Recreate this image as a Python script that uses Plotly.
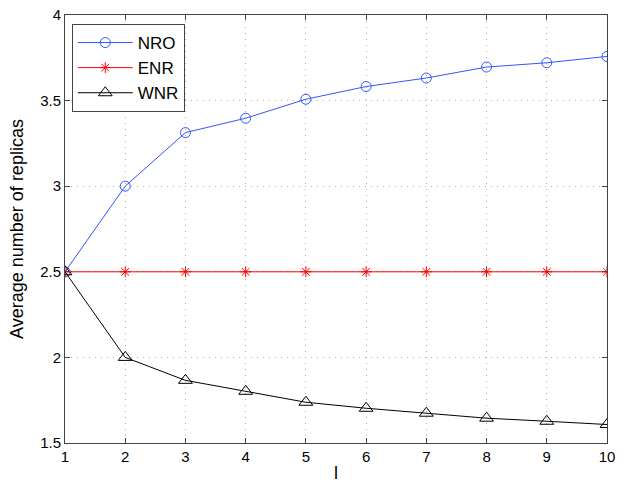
import plotly.graph_objects as go

# Data
l_values = [1, 2, 3, 4, 5, 6, 7, 8, 9, 10]
nro = [2.5, 3.0, 3.313, 3.397, 3.508, 3.582, 3.632, 3.696, 3.721, 3.758]
enr = [2.5, 2.5, 2.5, 2.5, 2.5, 2.5, 2.5, 2.5, 2.5, 2.5]
wnr = [2.5, 2.0, 1.866, 1.802, 1.738, 1.703, 1.674, 1.645, 1.627, 1.608]

x_ticks = [1, 2, 3, 4, 5, 6, 7, 8, 9, 10]
y_ticks = [1.5, 2, 2.5, 3, 3.5, 4]
y_tick_labels = ["1.5", "2", "2.5", "3", "3.5", "4"]

font_family = "Liberation Sans, Arial, sans-serif"

fig = go.Figure()
fig.add_trace(go.Scatter(
    x=l_values, y=nro, name="NRO", mode="lines+markers",
    line=dict(color="#3355ff", width=1),
    marker=dict(symbol="circle-open", size=10, color="#3355ff", line=dict(width=1)),
))
fig.add_trace(go.Scatter(
    x=l_values, y=enr, name="ENR", mode="lines+markers",
    line=dict(color="#ff0000", width=1),
    marker=dict(symbol="asterisk-open", size=9, color="#ff0000", line=dict(width=1, color="#ff0000")),
))
fig.add_trace(go.Scatter(
    x=l_values, y=wnr, name="WNR", mode="lines+markers",
    line=dict(color="#000000", width=1),
    marker=dict(symbol="triangle-up-open", size=12, color="#000000", line=dict(width=1)),
))

axis_common = dict(
    showline=True, linecolor="#444444", linewidth=1, mirror="ticks",
    ticks="inside", ticklen=5, tickcolor="#444444",
    showgrid=True, gridcolor="#b0b0b0", griddash="1px,5px", gridwidth=1,
    zeroline=False, automargin=False,
    tickfont=dict(family=font_family, size=15, color="#000000"),
)

fig.update_layout(
    width=631, height=483,
    margin=dict(l=65, r=24, t=14.5, b=39.5),
    paper_bgcolor="white", plot_bgcolor="white",
    font=dict(family=font_family, size=15, color="#000000"),
    xaxis=dict(range=[1, 10], tickvals=x_ticks, title=dict(text="l", standoff=16), **axis_common),
    yaxis=dict(range=[1.5, 4], tickvals=y_ticks, ticktext=y_tick_labels,
               title=dict(text="Average number of replicas", standoff=11), **axis_common),
    legend=dict(
        x=0.0125, y=0.979, xanchor="left", yanchor="top",
        bgcolor="white", bordercolor="#444444", borderwidth=1,
        font=dict(family=font_family, size=17),
        itemwidth=55, tracegroupgap=0,
    ),
    showlegend=True,
)

fig.write_html("out.html")
